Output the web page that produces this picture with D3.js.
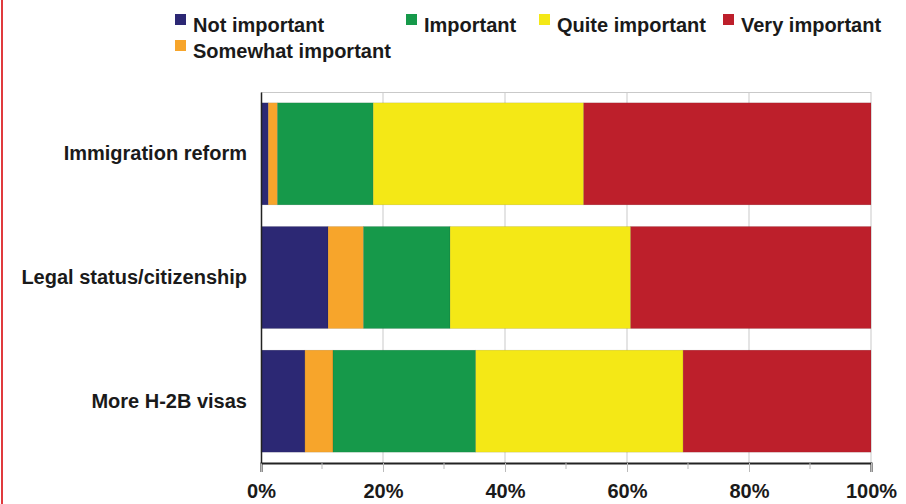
<!DOCTYPE html>
<html lang="en">
<head>
    <meta charset="UTF-8">
    <title>Importance of policy issues</title>
    <script src="https://d3js.org/d3.v7.min.js"></script>
    <style>
        body { margin: 0; background: #fff; font-family: "Liberation Sans", Arial, sans-serif; }
        text { font-weight: bold; fill: #1a1a1a; }
    </style>
</head>
<body>
    <div id="chart"></div>

    <script>
        // Data (percent of respondents)
        const categories = ["Immigration reform", "Legal status/citizenship", "More H-2B visas"];
        const seriesNames = ["Not important", "Somewhat important", "Important", "Quite important", "Very important"];
        const notImportant = [1.2, 11.0, 7.2];
        const somewhatImportant = [1.5, 5.8, 4.6];
        const important = [15.7, 14.2, 23.4];
        const quiteImportant = [34.5, 29.6, 34.0];
        const veryImportant = [47.1, 39.4, 30.8];
        const tickValues = [0, 20, 40, 60, 80, 100];
        const minorTicks = [10, 30, 50, 70, 90];
        const colors = ["#2c2874", "#f7a52b", "#16994a", "#f4e816", "#bd1f2b"];

        const W = 906, H = 504;
        const margin = {top: 92, right: 35, bottom: 41, left: 261};
        const width = W - margin.left - margin.right;
        const height = H - margin.top - margin.bottom;

        const table = categories.map((c, i) => ({
            cat: c,
            "Not important": notImportant[i],
            "Somewhat important": somewhatImportant[i],
            "Important": important[i],
            "Quite important": quiteImportant[i],
            "Very important": veryImportant[i]
        }));
        const stacked = d3.stack().keys(seriesNames)(table);

        const svg = d3.select("#chart").append("svg")
            .attr("width", W)
            .attr("height", H);

        // red frame line on the left edge
        svg.append("line")
            .attr("x1", 2).attr("x2", 2).attr("y1", 0).attr("y2", H)
            .attr("stroke", "#e03a3e").attr("stroke-width", 2);

        const g = svg.append("g")
            .attr("transform", "translate(" + margin.left + "," + margin.top + ")");

        const x = d3.scaleLinear().domain([0, 100]).range([0, width]);
        const y = d3.scaleBand().domain(categories).range([0, height]).paddingInner(0.175).paddingOuter(0.0875);
        const color = d3.scaleOrdinal().domain(seriesNames).range(colors);

        // gridlines + top line
        g.selectAll(".grid")
            .data(tickValues.slice(1))
            .enter().append("line")
            .attr("x1", d => x(d)).attr("x2", d => x(d))
            .attr("y1", 0).attr("y2", height)
            .attr("stroke", "#c9c9c9").attr("stroke-width", 1);
        g.append("line")
            .attr("x1", 0).attr("x2", width).attr("y1", 0.5).attr("y2", 0.5)
            .attr("stroke", "#c9c9c9");

        // bars
        g.selectAll(".series")
            .data(stacked)
            .enter().append("g")
            .attr("fill", d => color(d.key))
            .selectAll("rect")
            .data(d => d)
            .enter().append("rect")
            .attr("x", d => x(d[0]))
            .attr("width", d => x(d[1]) - x(d[0]))
            .attr("y", d => y(d.data.cat))
            .attr("height", y.bandwidth())
            .attr("stroke", "rgba(0,0,0,0.15)")
            .attr("stroke-width", 0.6);

        // bottom axis
        const xAxis = g.append("g")
            .attr("transform", "translate(0," + height + ")")
            .call(d3.axisBottom(x).tickValues(tickValues).tickFormat(d => d + "%").tickSize(9).tickPadding(12));
        xAxis.select(".domain").attr("stroke", "#222").attr("stroke-width", 2);
        xAxis.selectAll(".tick line").attr("stroke", "#bbb");
        xAxis.selectAll(".tick text").style("font-size", "20px").style("font-weight", "bold").attr("fill", "#1a1a1a");
        xAxis.selectAll(".minor")
            .data(minorTicks)
            .enter().append("line")
            .attr("x1", d => x(d)).attr("x2", d => x(d))
            .attr("y1", 0).attr("y2", 6)
            .attr("stroke", "#bbb");

        // left axis
        const yAxis = g.append("g")
            .call(d3.axisLeft(y).tickSize(0).tickPadding(14));
        yAxis.select(".domain").attr("stroke", "#222").attr("stroke-width", 1.5);
        yAxis.selectAll(".tick text").style("font-size", "20px").style("font-weight", "bold").attr("fill", "#1a1a1a");

        // legend
        const legendPos = [[175, 14], [175, 40], [406, 14], [539, 14], [723, 14]];
        const legend = svg.selectAll(".legend")
            .data(seriesNames)
            .enter().append("g")
            .attr("transform", (d, i) => "translate(" + legendPos[i][0] + "," + legendPos[i][1] + ")");
        legend.append("rect")
            .attr("width", 11).attr("height", 11)
            .attr("fill", d => color(d));
        legend.append("text")
            .attr("x", 18).attr("y", 18)
            .style("font-size", "20px")
            .text(d => d);
    </script>
</body>
</html>
